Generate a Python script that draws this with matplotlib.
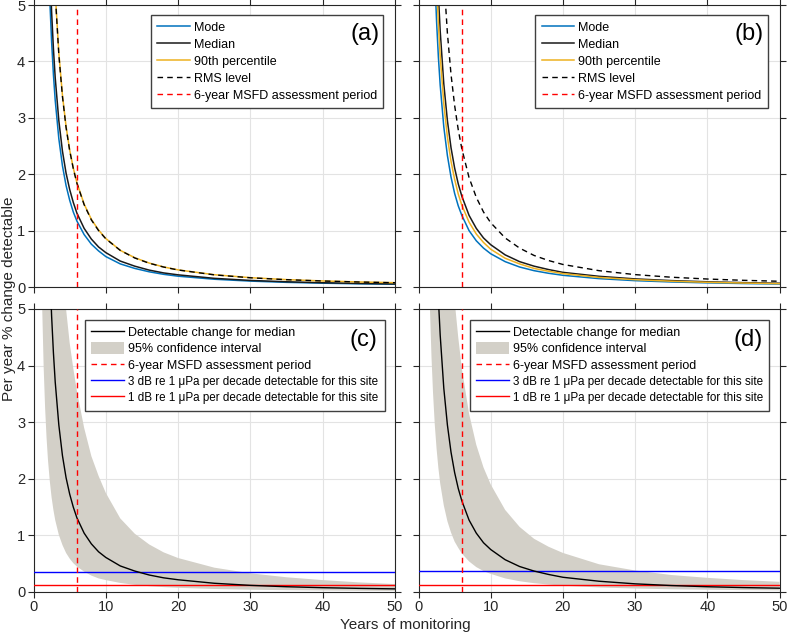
import matplotlib
matplotlib.use('Agg')
import matplotlib.pyplot as plt

plt.rcParams['font.family'] = ['Liberation Sans', 'DejaVu Sans']

# years of monitoring
years = [1.2, 1.4, 1.6, 1.8, 2.0, 2.25, 2.5, 2.75, 3.0, 3.5, 4.0, 4.5, 5.0, 5.5, 6.0,
         7, 8, 9, 10, 12, 14, 16, 18, 20, 25, 30, 35, 40, 45, 50]

# panel (a)
mode_a = [13.1, 10.4, 8.50, 7.12, 6.08, 5.10, 4.35, 3.77, 3.31, 2.63, 2.15, 1.80, 1.54, 1.33, 1.17,
          0.93, 0.76, 0.64, 0.54, 0.41, 0.33, 0.27, 0.225, 0.192, 0.138, 0.105, 0.083, 0.068, 0.057, 0.049]
median_a = [14.7, 11.6, 9.54, 7.99, 6.82, 5.72, 4.88, 4.23, 3.71, 2.95, 2.41, 2.02, 1.73, 1.50, 1.31,
            1.04, 0.85, 0.71, 0.61, 0.46, 0.37, 0.30, 0.25, 0.216, 0.154, 0.117, 0.093, 0.076, 0.064, 0.055]
p90_a = [20.7, 16.4, 13.4, 11.3, 9.62, 8.06, 6.88, 5.96, 5.23, 4.15, 3.40, 2.85, 2.43, 2.11, 1.85,
         1.47, 1.20, 1.01, 0.86, 0.65, 0.52, 0.425, 0.356, 0.304, 0.218, 0.166, 0.131, 0.108, 0.090, 0.077]
rms_a = [20.6, 16.3, 13.3, 11.2, 9.55, 8.00, 6.83, 5.92, 5.20, 4.12, 3.38, 2.83, 2.42, 2.10, 1.84,
         1.46, 1.19, 1.00, 0.855, 0.65, 0.515, 0.422, 0.354, 0.302, 0.216, 0.164, 0.130, 0.107, 0.089, 0.076]

# panel (b)
mode_b = [14.1, 11.2, 9.19, 7.70, 6.58, 5.51, 4.71, 4.08, 3.58, 2.84, 2.33, 1.95, 1.66, 1.44, 1.27,
          1.00, 0.82, 0.69, 0.59, 0.45, 0.355, 0.29, 0.244, 0.208, 0.149, 0.113, 0.09, 0.074, 0.062, 0.053]
median_b = [17.9, 14.2, 11.7, 9.77, 8.34, 6.99, 5.97, 5.18, 4.54, 3.60, 2.95, 2.47, 2.11, 1.83, 1.61,
            1.27, 1.04, 0.87, 0.75, 0.57, 0.45, 0.37, 0.31, 0.26, 0.19, 0.144, 0.114, 0.093, 0.078, 0.067]
p90_b = [16.2, 12.9, 10.5, 8.82, 7.53, 6.31, 5.39, 4.67, 4.10, 3.25, 2.66, 2.23, 1.91, 1.65, 1.45,
         1.15, 0.94, 0.79, 0.67, 0.51, 0.41, 0.33, 0.28, 0.238, 0.170, 0.130, 0.103, 0.084, 0.071, 0.060]
rms_b = [27.4, 21.7, 17.8, 14.9, 12.7, 10.7, 9.11, 7.89, 6.93, 5.50, 4.50, 3.77, 3.22, 2.79, 2.45,
         1.94, 1.59, 1.33, 1.14, 0.87, 0.69, 0.56, 0.47, 0.40, 0.29, 0.22, 0.174, 0.142, 0.119, 0.102]

# panel (c): median with 95% CI
lower_c = [5.02, 3.98, 3.26, 2.73, 2.33, 1.96, 1.67, 1.45, 1.27, 1.01, 0.83, 0.69, 0.59, 0.51, 0.45,
           0.36, 0.29, 0.24, 0.21, 0.16, 0.126, 0.103, 0.086, 0.074, 0.053, 0.040, 0.032, 0.026, 0.022, 0.019]
upper_c = [36.5, 29.0, 23.7, 19.9, 17.0, 14.2, 12.1, 10.5, 9.2, 7.3, 5.9, 5.0, 4.4, 3.95, 3.55,
           2.9, 2.4, 2.05, 1.75, 1.3, 1.03, 0.84, 0.70, 0.60, 0.43, 0.33, 0.26, 0.21, 0.17, 0.14]
db3_c, db1_c = 0.35, 0.12

# panel (d)
lower_d = [7.6, 6.04, 4.94, 4.14, 3.54, 2.96, 2.53, 2.19, 1.92, 1.53, 1.25, 1.05, 0.89, 0.78, 0.68,
           0.54, 0.44, 0.37, 0.32, 0.24, 0.19, 0.156, 0.131, 0.112, 0.08, 0.061, 0.048, 0.040, 0.033, 0.028]
upper_d = [44, 35, 28.7, 24.0, 20.5, 17.2, 14.7, 12.7, 11.2, 8.86, 7.25, 6.08, 5.15, 4.5, 3.95,
           3.15, 2.6, 2.2, 1.9, 1.45, 1.15, 0.94, 0.80, 0.69, 0.49, 0.38, 0.30, 0.25, 0.21, 0.18]
db3_d, db1_d = 0.37, 0.13

msfd_year = 6

blue = '#0072BD'
yellow = '#EDB120'
band = '#d3d0c8'
dark = '#262626'

fig = plt.figure(figsize=(7.87, 6.36), dpi=100)
pos = {'a': [0.0426, 0.5487, 0.4593, 0.4434],
       'b': [0.5318, 0.5487, 0.4587, 0.4434],
       'c': [0.0426, 0.0692, 0.4593, 0.4450],
       'd': [0.5318, 0.0692, 0.4587, 0.4450]}
axes = {k: fig.add_axes(v) for k, v in pos.items()}

for k, ax in axes.items():
    ax.set_xlim(0, 50)
    ax.set_ylim(0, 5)
    ax.set_xticks([0, 10, 20, 30, 40, 50])
    ax.set_yticks([0, 1, 2, 3, 4, 5])
    ax.grid(True, color='#e3e3e3', linewidth=0.8)
    ax.set_axisbelow(True)
    ax.tick_params(direction='out', length=4.5, width=0.8, pad=1.5, top=True, right=True,
                   labelsize=10.5, color=dark, labelcolor=dark)
    for s in ax.spines.values():
        s.set_color(dark)
        s.set_linewidth(0.8)

axes['a'].tick_params(labelbottom=False)
axes['b'].tick_params(labelbottom=False, labelleft=False)
axes['d'].tick_params(labelleft=False)

leg_kw = dict(loc='upper right', fontsize=9, fancybox=False, framealpha=1,
              edgecolor='#404040', handlelength=2.6, handleheight=1.0, handletextpad=0.35,
              borderpad=0.5, borderaxespad=0)

# top panels
for k, mo, me, p9, rm in [('a', mode_a, median_a, p90_a, rms_a),
                          ('b', mode_b, median_b, p90_b, rms_b)]:
    ax = axes[k]
    ax.plot(years, mo, color=blue, lw=1.1, label='Mode')
    ax.plot(years, me, color='#1a1a1a', lw=1.1, label='Median')
    ax.plot(years, p9, color=yellow, lw=1.1, label='90th percentile')
    ax.plot(years, rm, color='black', lw=1.0, ls=(0, (4, 3)), label='RMS level')
    ax.axvline(msfd_year, color='red', lw=1.0, ls=(0, (4, 3)),
               label='6-year MSFD assessment period')
    leg = ax.legend(bbox_to_anchor=(0.968, 0.966), labelspacing=0.33, **leg_kw)
    leg.get_frame().set_linewidth(1.0)
    ax.text(0.917, 0.898, f'({k})', transform=ax.transAxes, fontsize=17,
            ha='center', va='center', zorder=10)

# bottom panels
for k, me, lo, up, d3, d1 in [('c', median_a, lower_c, upper_c, db3_c, db1_c),
                              ('d', median_b, lower_d, upper_d, db3_d, db1_d)]:
    ax = axes[k]
    ax.fill_between(years, lo, up, color=band, lw=0, label='95% confidence interval', zorder=2)
    ax.plot(years, me, color='black', lw=1.0, label='Detectable change for median', zorder=4)
    ax.axvline(msfd_year, color='red', lw=1.0, ls=(0, (4, 3)),
               label='6-year MSFD assessment period', zorder=4)
    ax.axhline(d3, color='#0000ff', lw=1.0,
               label='3 dB re 1 μPa per decade detectable for this site', zorder=3)
    ax.axhline(d1, color='#ff0000', lw=1.0,
               label='1 dB re 1 μPa per decade detectable for this site', zorder=3)
    h, l = ax.get_legend_handles_labels()
    order = [1, 0, 2, 3, 4]
    leg = ax.legend([h[i] for i in order], [l[i] for i in order],
                    bbox_to_anchor=(0.972, 0.962), labelspacing=0.28, **leg_kw)
    leg.get_frame().set_linewidth(1.0)
    for t in leg.get_texts()[3:]:
        t.set_fontsize(8.4)
    ax.text(0.914, 0.89, f'({k})', transform=ax.transAxes, fontsize=17,
            ha='center', va='center', zorder=10)

fig.text(0.0115, 0.53, 'Per year % change detectable', rotation=90,
         ha='center', va='center', fontsize=11, color=dark)
fig.text(0.515, 0.018, 'Years of monitoring', ha='center', va='center',
         fontsize=11, color=dark)

fig.savefig('out.png', dpi=100)
